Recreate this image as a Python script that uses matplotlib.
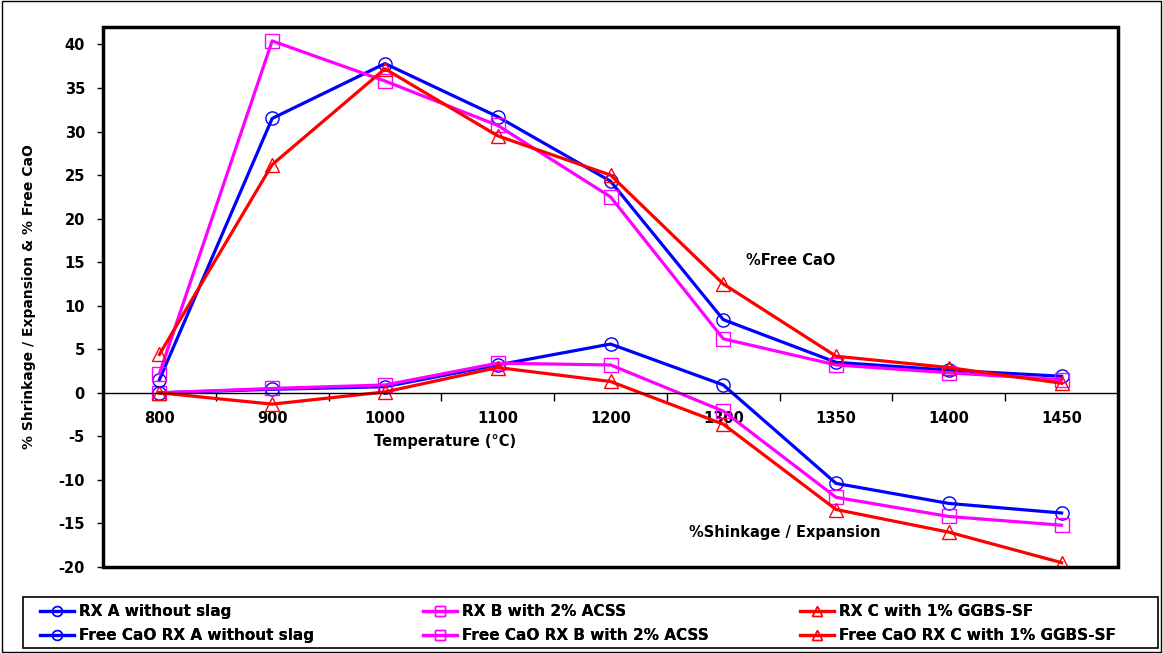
import matplotlib.pyplot as plt
from matplotlib.patches import Rectangle
import numpy as np

plt.rcParams['font.family'] = ['DejaVu Sans']
plt.rcParams['font.weight'] = 'bold'
plt.rcParams['axes.unicode_minus'] = False

temps = ['800', '900', '1000', '1100', '1200', '1300', '1350', '1400', '1450']

# % shrinkage / expansion
shr_a = [0.0, 0.4, 0.7, 3.2, 5.6, 0.9, -10.4, -12.7, -13.8]
shr_b = [0.0, 0.5, 0.9, 3.4, 3.2, -2.1, -12.0, -14.2, -15.2]
shr_c = [0.0, -1.3, 0.1, 2.9, 1.3, -3.6, -13.4, -16.0, -19.5]

# % free CaO
cao_a = [1.5, 31.5, 37.8, 31.7, 24.3, 8.4, 3.5, 2.6, 1.9]
cao_b = [2.2, 40.4, 35.8, 30.7, 22.5, 6.2, 3.2, 2.3, 1.5]
cao_c = [4.4, 26.2, 37.2, 29.5, 25.0, 12.5, 4.2, 2.9, 1.1]

fig = plt.figure(figsize=(11.63, 6.53), dpi=100)
ax = fig.add_axes([103/1163, 1 - 567/653, (1118-103)/1163, (567-27)/653])

x = np.arange(len(temps))
style = dict(lw=2.3, ms=9.5, mfc='none', mew=1.0)
h1, = ax.plot(x, shr_a, '-o', color='#0000ff', label='RX A without slag', **style)
h2, = ax.plot(x, shr_b, '-s', color='#ff00ff', label='RX B with 2% ACSS', **style)
h3, = ax.plot(x, shr_c, '-^', color='#ff0000', label='RX C with 1% GGBS-SF', **style)
h4, = ax.plot(x, cao_a, '-o', color='#0000ff', label='Free CaO RX A without slag', **style)
h5, = ax.plot(x, cao_b, '-s', color='#ff00ff', label='Free CaO RX B with 2% ACSS', **style)
h6, = ax.plot(x, cao_c, '-^', color='#ff0000', label='Free CaO RX C with 1% GGBS-SF', **style)

ax.set_xlim(-0.5, len(temps) - 0.5)
ax.set_ylim(-20, 42)
ax.set_yticks(np.arange(-20, 41, 5))
ax.set_xticks(x)
ax.set_xticklabels(temps)
ax.set_xticks(np.arange(0.5, len(temps) - 1, 1), minor=True)
ax.tick_params(axis='x', which='major', length=0, pad=13, labelsize=10.5)
ax.tick_params(axis='x', which='minor', length=6, direction='out', width=1)
ax.tick_params(axis='y', length=4, width=1, direction='out', pad=9, labelsize=10.5)

# zero line carries the category ticks, frame drawn separately
for s in ['right', 'top']:
    ax.spines[s].set_visible(False)
ax.spines['left'].set_linewidth(0)
ax.spines['bottom'].set_position(('data', 0))
ax.spines['bottom'].set_linewidth(1)
ax.add_patch(Rectangle((0, 0), 1, 1, transform=ax.transAxes, fill=False,
                       lw=2.5, ec='black', clip_on=False, zorder=5))

ax.set_ylabel('% Shrinkage / Expansion & % Free CaO', fontsize=10, fontweight='bold', labelpad=16)
ax.text(0.337, 0.232, 'Temperature (°C)', transform=ax.transAxes, ha='center', va='center',
        fontsize=10.5, fontweight='bold')
ax.text(0.678, 0.567, '%Free CaO', transform=ax.transAxes, ha='center', va='center',
        fontsize=10.5, fontweight='bold')
ax.text(0.672, 0.063, '%Shinkage / Expansion', transform=ax.transAxes, ha='center', va='center',
        fontsize=10.5, fontweight='bold')

# legend box with three two-row columns
fig.patches.append(Rectangle((23/1163, 1 - 648/653), (1158-23)/1163, (648-597)/653,
                             transform=fig.transFigure, fill=False, lw=1.2, ec='black'))
cols = [(h1, h4), (h2, h5), (h3, h6)]
col_x = [40, 423, 800]
for hs, cx in zip(cols, col_x):
    lg = fig.legend(handles=list(hs), loc='center left',
                    bbox_to_anchor=(cx/1163, 1 - 623.5/653), frameon=False,
                    prop={'weight': 'bold', 'size': 11}, handlelength=2.2,
                    handletextpad=0.35, labelspacing=0.6, borderaxespad=0,
                    borderpad=0, markerscale=0.75)
    fig.add_artist(lg)

fig.patches.append(Rectangle((0.002, 0.002), 0.996, 0.996, transform=fig.transFigure,
                             fill=False, lw=1, ec='black'))

fig.savefig('out.png', dpi=100)
